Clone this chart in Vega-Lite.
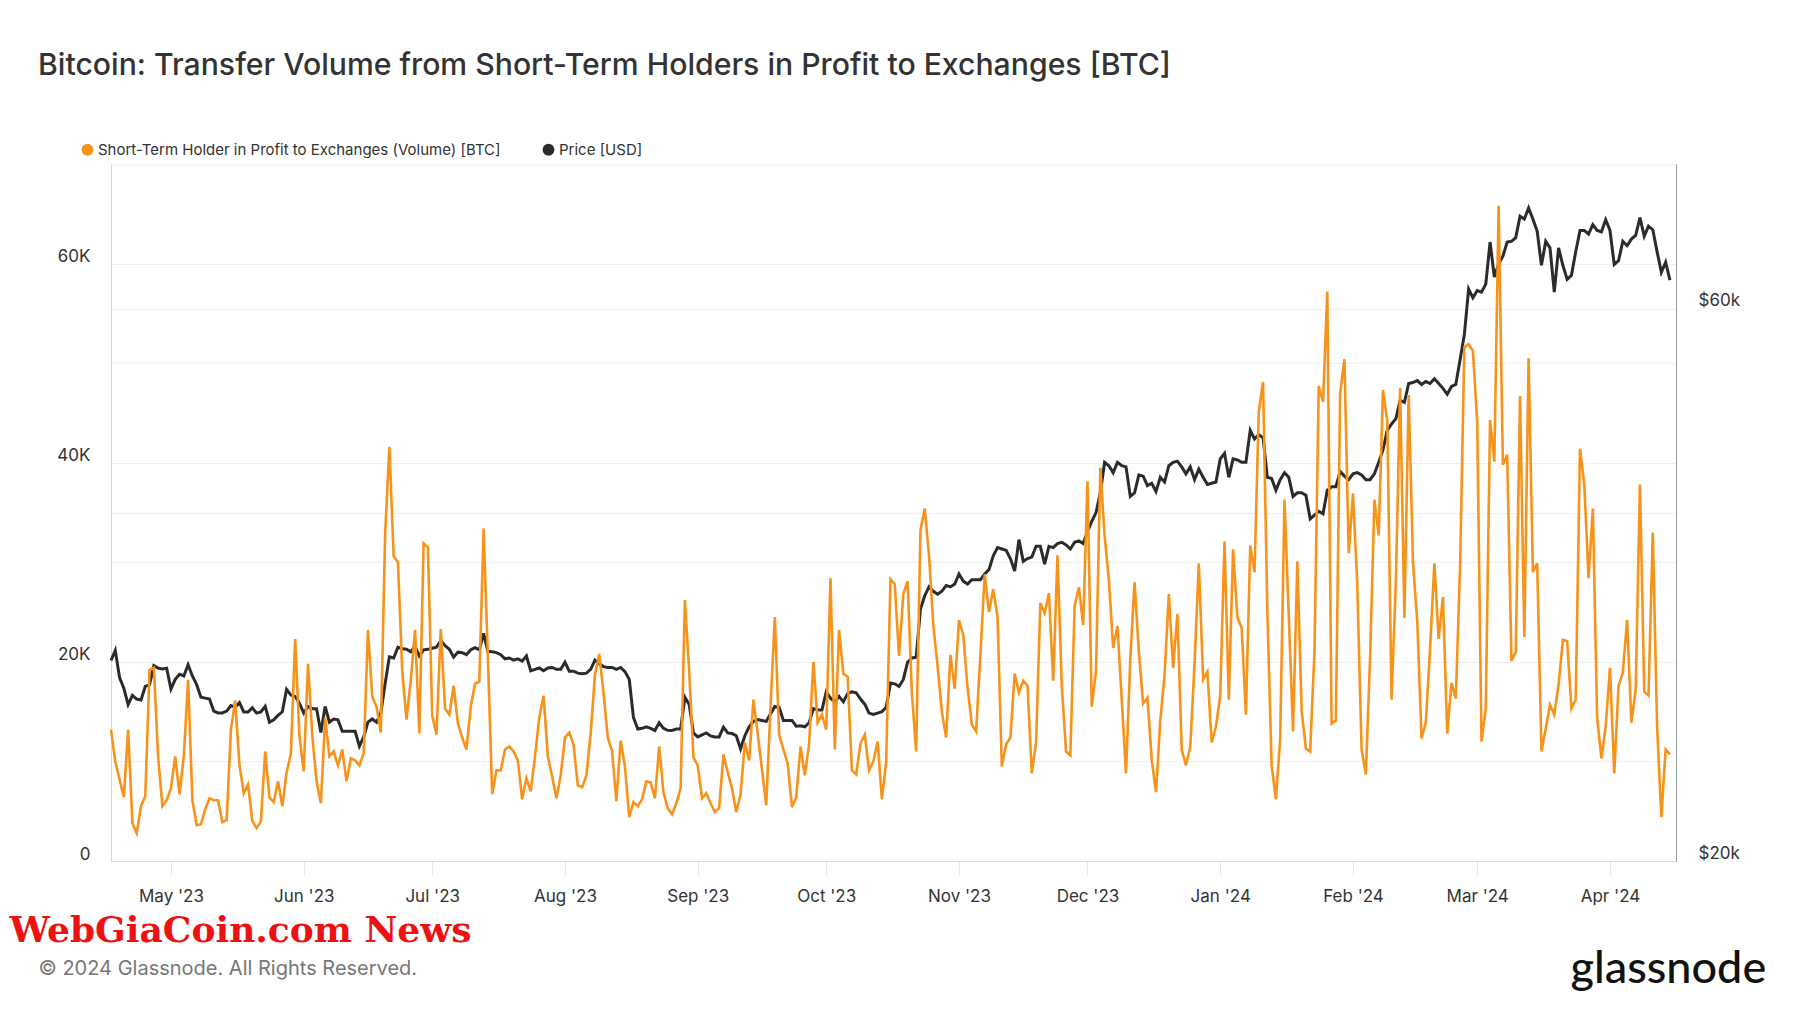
{
"$schema":"https://vega.github.io/schema/vega-lite/v6.json",
"width":1565,"height":697,
"autosize":{"type":"none"},
"padding":{"left":111,"top":164,"right":124,"bottom":152},
"background":"white",
"config":{"view":{"stroke":"#e8e8e8","strokeWidth":1},"font":"Inter"},
"title":{"text":"Bitcoin: Transfer Volume from Short-Term Holders in Profit to Exchanges [BTC]","anchor":"start","frame":"group","dx":-73,"offset":37,"baseline":"alphabetic","fontSize":30.2,"fontWeight":500,"font":"Inter","color":"#333333"},
"data":{"values":[
{"t":"2023-04-17","v":13200,"p":29800},{"t":"2023-04-18","v":10000,"p":30400},{"t":"2023-04-19","v":8200,"p":28800},{"t":"2023-04-20","v":6400,"p":28200},{"t":"2023-04-21","v":13200,"p":27300},{"t":"2023-04-22","v":3800,"p":27800},{"t":"2023-04-23","v":2800,"p":27600},{"t":"2023-04-24","v":5500,"p":27550},{"t":"2023-04-25","v":6500,"p":28300},{"t":"2023-04-26","v":19200,"p":28400},{"t":"2023-04-27","v":19400,"p":29500},{"t":"2023-04-28","v":10500,"p":29350},{"t":"2023-04-29","v":5500,"p":29300},{"t":"2023-04-30","v":6100,"p":29350},
{"t":"2023-05-01","v":7300,"p":28150},{"t":"2023-05-02","v":10500,"p":28700},{"t":"2023-05-03","v":6700,"p":29000},{"t":"2023-05-04","v":10500,"p":28900},{"t":"2023-05-05","v":18200,"p":29550},{"t":"2023-05-06","v":6100,"p":28900},{"t":"2023-05-07","v":3600,"p":28400},{"t":"2023-05-08","v":3700,"p":27700},{"t":"2023-05-09","v":5200,"p":27650},{"t":"2023-05-10","v":6300,"p":27600},{"t":"2023-05-11","v":6100,"p":26950},{"t":"2023-05-12","v":6100,"p":26850},{"t":"2023-05-13","v":3900,"p":26850},{"t":"2023-05-14","v":4100,"p":26950},{"t":"2023-05-15","v":13200,"p":27250},{"t":"2023-05-16","v":16100,"p":27150},{"t":"2023-05-17","v":9600,"p":27400},{"t":"2023-05-18","v":6800,"p":26900},{"t":"2023-05-19","v":7700,"p":26900},{"t":"2023-05-20","v":4000,"p":27130},{"t":"2023-05-21","v":3300,"p":26840},{"t":"2023-05-22","v":4000,"p":26900},{"t":"2023-05-23","v":11000,"p":27200},{"t":"2023-05-24","v":6400,"p":26360},{"t":"2023-05-25","v":5900,"p":26480},{"t":"2023-05-26","v":8000,"p":26720},{"t":"2023-05-27","v":5500,"p":26910},{"t":"2023-05-28","v":8900,"p":28140},{"t":"2023-05-29","v":10800,"p":27820},{"t":"2023-05-30","v":22300,"p":27740},{"t":"2023-05-31","v":12600,"p":27370},
{"t":"2023-06-01","v":9000,"p":26840},{"t":"2023-06-02","v":19800,"p":27200},{"t":"2023-06-03","v":12600,"p":27080},{"t":"2023-06-04","v":8000,"p":27080},{"t":"2023-06-05","v":5800,"p":25820},{"t":"2023-06-06","v":14400,"p":27200},{"t":"2023-06-07","v":10500,"p":26360},{"t":"2023-06-08","v":11000,"p":26520},{"t":"2023-06-09","v":9600,"p":26480},{"t":"2023-06-10","v":11200,"p":25890},{"t":"2023-06-11","v":8000,"p":25890},{"t":"2023-06-12","v":10300,"p":25890},{"t":"2023-06-13","v":10100,"p":25890},{"t":"2023-06-14","v":9600,"p":25130},{"t":"2023-06-15","v":10800,"p":25600},{"t":"2023-06-16","v":23200,"p":26360},{"t":"2023-06-17","v":16500,"p":26530},{"t":"2023-06-18","v":15500,"p":26360},{"t":"2023-06-19","v":12900,"p":26840},{"t":"2023-06-20","v":32700,"p":28450},{"t":"2023-06-21","v":41600,"p":30020},{"t":"2023-06-22","v":30600,"p":29950},{"t":"2023-06-23","v":30000,"p":30600},{"t":"2023-06-24","v":19100,"p":30500},{"t":"2023-06-25","v":14200,"p":30470},{"t":"2023-06-26","v":18200,"p":30320},{"t":"2023-06-27","v":23200,"p":30640},{"t":"2023-06-28","v":12800,"p":30070},{"t":"2023-06-29","v":31900,"p":30440},{"t":"2023-06-30","v":31500,"p":30470},
{"t":"2023-07-01","v":14600,"p":30540},{"t":"2023-07-02","v":12700,"p":30600},{"t":"2023-07-03","v":23300,"p":31000},{"t":"2023-07-04","v":15300,"p":30700},{"t":"2023-07-05","v":14700,"p":30470},{"t":"2023-07-06","v":17600,"p":30000},{"t":"2023-07-07","v":13800,"p":30300},{"t":"2023-07-08","v":12400,"p":30270},{"t":"2023-07-09","v":11200,"p":30150},{"t":"2023-07-10","v":15500,"p":30440},{"t":"2023-07-11","v":17800,"p":30570},{"t":"2023-07-12","v":18000,"p":30440},{"t":"2023-07-13","v":33400,"p":31450},{"t":"2023-07-14","v":20500,"p":30350},{"t":"2023-07-15","v":6700,"p":30320},{"t":"2023-07-16","v":9100,"p":30270},{"t":"2023-07-17","v":9100,"p":30150},{"t":"2023-07-18","v":11200,"p":29900},{"t":"2023-07-19","v":11500,"p":29950},{"t":"2023-07-20","v":11000,"p":29820},{"t":"2023-07-21","v":10100,"p":29900},{"t":"2023-07-22","v":6200,"p":29760},{"t":"2023-07-23","v":8300,"p":30070},{"t":"2023-07-24","v":7000,"p":29200},{"t":"2023-07-25","v":10500,"p":29280},{"t":"2023-07-26","v":14400,"p":29360},{"t":"2023-07-27","v":16600,"p":29200},{"t":"2023-07-28","v":10500,"p":29360},{"t":"2023-07-29","v":8500,"p":29390},{"t":"2023-07-30","v":6300,"p":29280},{"t":"2023-07-31","v":8600,"p":29280},
{"t":"2023-08-01","v":12400,"p":29700},{"t":"2023-08-02","v":12900,"p":29170},{"t":"2023-08-03","v":11700,"p":29170},{"t":"2023-08-04","v":7600,"p":29060},{"t":"2023-08-05","v":7400,"p":29020},{"t":"2023-08-06","v":8600,"p":29060},{"t":"2023-08-07","v":12800,"p":29280},{"t":"2023-08-08","v":18700,"p":29820},{"t":"2023-08-09","v":20800,"p":29600},{"t":"2023-08-10","v":16900,"p":29440},{"t":"2023-08-11","v":12400,"p":29390},{"t":"2023-08-12","v":11000,"p":29390},{"t":"2023-08-13","v":6000,"p":29280},{"t":"2023-08-14","v":12100,"p":29390},{"t":"2023-08-15","v":9500,"p":29150},{"t":"2023-08-16","v":4400,"p":28710},{"t":"2023-08-17","v":5900,"p":26600},{"t":"2023-08-18","v":5500,"p":26000},{"t":"2023-08-19","v":6200,"p":26040},{"t":"2023-08-20","v":8000,"p":26120},{"t":"2023-08-21","v":7900,"p":26040},{"t":"2023-08-22","v":6300,"p":25930},{"t":"2023-08-23","v":11500,"p":26330},{"t":"2023-08-24","v":6900,"p":26040},{"t":"2023-08-25","v":5300,"p":25940},{"t":"2023-08-26","v":4700,"p":25930},{"t":"2023-08-27","v":5800,"p":26000},{"t":"2023-08-28","v":7300,"p":26000},{"t":"2023-08-29","v":26200,"p":27700},{"t":"2023-08-30","v":19100,"p":27300},{"t":"2023-08-31","v":10400,"p":25800},
{"t":"2023-09-01","v":9600,"p":25600},{"t":"2023-09-02","v":6300,"p":25700},{"t":"2023-09-03","v":6800,"p":25800},{"t":"2023-09-04","v":5800,"p":25650},{"t":"2023-09-05","v":4900,"p":25600},{"t":"2023-09-06","v":5300,"p":25600},{"t":"2023-09-07","v":10700,"p":26100},{"t":"2023-09-08","v":8900,"p":25800},{"t":"2023-09-09","v":7300,"p":25770},{"t":"2023-09-10","v":4900,"p":25660},{"t":"2023-09-11","v":6700,"p":25000},{"t":"2023-09-12","v":11900,"p":25660},{"t":"2023-09-13","v":10100,"p":26120},{"t":"2023-09-14","v":16200,"p":26400},{"t":"2023-09-15","v":12800,"p":26500},{"t":"2023-09-16","v":9200,"p":26450},{"t":"2023-09-17","v":5600,"p":26400},{"t":"2023-09-18","v":15500,"p":26800},{"t":"2023-09-19","v":24500,"p":27200},{"t":"2023-09-20","v":12700,"p":27150},{"t":"2023-09-21","v":11200,"p":26450},{"t":"2023-09-22","v":9800,"p":26450},{"t":"2023-09-23","v":5400,"p":26450},{"t":"2023-09-24","v":6400,"p":26150},{"t":"2023-09-25","v":11500,"p":26170},{"t":"2023-09-26","v":8600,"p":26120},{"t":"2023-09-27","v":11700,"p":26330},{"t":"2023-09-28","v":20000,"p":27080},{"t":"2023-09-29","v":13900,"p":27000},{"t":"2023-09-30","v":14700,"p":27000},
{"t":"2023-10-01","v":13200,"p":28000},{"t":"2023-10-02","v":28400,"p":27650},{"t":"2023-10-03","v":11200,"p":27450},{"t":"2023-10-04","v":23200,"p":27750},{"t":"2023-10-05","v":18800,"p":27450},{"t":"2023-10-06","v":18500,"p":27900},{"t":"2023-10-07","v":9100,"p":28000},{"t":"2023-10-08","v":8700,"p":27950},{"t":"2023-10-09","v":11800,"p":27600},{"t":"2023-10-10","v":12700,"p":27320},{"t":"2023-10-11","v":9100,"p":26840},{"t":"2023-10-12","v":10000,"p":26770},{"t":"2023-10-13","v":12000,"p":26840},{"t":"2023-10-14","v":6200,"p":26910},{"t":"2023-10-15","v":10000,"p":27150},{"t":"2023-10-16","v":28300,"p":28500},{"t":"2023-10-17","v":27800,"p":28450},{"t":"2023-10-18","v":20600,"p":28300},{"t":"2023-10-19","v":26800,"p":28700},{"t":"2023-10-20","v":28100,"p":29700},{"t":"2023-10-21","v":16900,"p":29950},{"t":"2023-10-22","v":11000,"p":30000},{"t":"2023-10-23","v":33200,"p":33000},{"t":"2023-10-24","v":35400,"p":33900},{"t":"2023-10-25","v":30700,"p":34500},{"t":"2023-10-26","v":23700,"p":34200},{"t":"2023-10-27","v":19600,"p":34000},{"t":"2023-10-28","v":15000,"p":34200},{"t":"2023-10-29","v":12400,"p":34600},{"t":"2023-10-30","v":20700,"p":34500},{"t":"2023-10-31","v":17300,"p":34700},
{"t":"2023-11-01","v":24200,"p":35400},{"t":"2023-11-02","v":22700,"p":34900},{"t":"2023-11-03","v":17400,"p":34700},{"t":"2023-11-04","v":13700,"p":35000},{"t":"2023-11-05","v":13000,"p":35000},{"t":"2023-11-06","v":20700,"p":35000},{"t":"2023-11-07","v":28800,"p":35400},{"t":"2023-11-08","v":25000,"p":35700},{"t":"2023-11-09","v":27300,"p":36700},{"t":"2023-11-10","v":24500,"p":37300},{"t":"2023-11-11","v":9500,"p":37200},{"t":"2023-11-12","v":11700,"p":37100},{"t":"2023-11-13","v":12400,"p":36500},{"t":"2023-11-14","v":18800,"p":35600},{"t":"2023-11-15","v":16900,"p":37900},{"t":"2023-11-16","v":18100,"p":36300},{"t":"2023-11-17","v":17600,"p":36500},{"t":"2023-11-18","v":8800,"p":36600},{"t":"2023-11-19","v":11900,"p":37400},{"t":"2023-11-20","v":25900,"p":37400},{"t":"2023-11-21","v":24900,"p":36100},{"t":"2023-11-22","v":26900,"p":37400},{"t":"2023-11-23","v":18100,"p":37300},{"t":"2023-11-24","v":30700,"p":37600},{"t":"2023-11-25","v":17600,"p":37700},{"t":"2023-11-26","v":11000,"p":37500},{"t":"2023-11-27","v":10600,"p":37200},{"t":"2023-11-28","v":25600,"p":37700},{"t":"2023-11-29","v":27500,"p":37800},{"t":"2023-11-30","v":23700,"p":37600},
{"t":"2023-12-01","v":38100,"p":38500},{"t":"2023-12-02","v":15500,"p":39300},{"t":"2023-12-03","v":19100,"p":40000},{"t":"2023-12-04","v":39500,"p":41600},{"t":"2023-12-05","v":32700,"p":44200},{"t":"2023-12-06","v":28200,"p":43900},{"t":"2023-12-07","v":21400,"p":43300},{"t":"2023-12-08","v":23600,"p":44200},{"t":"2023-12-09","v":16200,"p":43900},{"t":"2023-12-10","v":8800,"p":43800},{"t":"2023-12-11","v":20300,"p":41300},{"t":"2023-12-12","v":28000,"p":41600},{"t":"2023-12-13","v":21000,"p":43100},{"t":"2023-12-14","v":15800,"p":43000},{"t":"2023-12-15","v":16400,"p":42200},{"t":"2023-12-16","v":10200,"p":42400},{"t":"2023-12-17","v":6900,"p":41700},{"t":"2023-12-18","v":14100,"p":42900},{"t":"2023-12-19","v":18700,"p":42500},{"t":"2023-12-20","v":26800,"p":43900},{"t":"2023-12-21","v":19400,"p":44200},{"t":"2023-12-22","v":24800,"p":44300},{"t":"2023-12-23","v":11200,"p":43800},{"t":"2023-12-24","v":9600,"p":43200},{"t":"2023-12-25","v":11500,"p":43800},{"t":"2023-12-26","v":19800,"p":42700},{"t":"2023-12-27","v":29900,"p":43600},{"t":"2023-12-28","v":18200,"p":42900},{"t":"2023-12-29","v":19000,"p":42300},{"t":"2023-12-30","v":11900,"p":42400},{"t":"2023-12-31","v":13500,"p":42500},
{"t":"2024-01-01","v":16600,"p":44500},{"t":"2024-01-02","v":32100,"p":45000},{"t":"2024-01-03","v":16200,"p":42900},{"t":"2024-01-04","v":31300,"p":44500},{"t":"2024-01-05","v":24500,"p":44400},{"t":"2024-01-06","v":23400,"p":44200},{"t":"2024-01-07","v":14700,"p":44200},{"t":"2024-01-08","v":31700,"p":47100},{"t":"2024-01-09","v":29000,"p":46300},{"t":"2024-01-10","v":45200,"p":46700},{"t":"2024-01-11","v":48100,"p":46400},{"t":"2024-01-12","v":25000,"p":42900},{"t":"2024-01-13","v":9600,"p":42800},{"t":"2024-01-14","v":6200,"p":41800},{"t":"2024-01-15","v":12300,"p":42700},{"t":"2024-01-16","v":36300,"p":43300},{"t":"2024-01-17","v":24600,"p":42900},{"t":"2024-01-18","v":13000,"p":41300},{"t":"2024-01-19","v":30100,"p":41600},{"t":"2024-01-20","v":15100,"p":41600},{"t":"2024-01-21","v":11300,"p":41400},{"t":"2024-01-22","v":11000,"p":39500},{"t":"2024-01-23","v":21000,"p":39800},{"t":"2024-01-24","v":47700,"p":40100},{"t":"2024-01-25","v":46100,"p":39900},{"t":"2024-01-26","v":57200,"p":41800},{"t":"2024-01-27","v":13800,"p":42100},{"t":"2024-01-28","v":14100,"p":42100},{"t":"2024-01-29","v":47000,"p":43400},{"t":"2024-01-30","v":50400,"p":43000},{"t":"2024-01-31","v":30900,"p":42700},
{"t":"2024-02-01","v":36900,"p":43200},{"t":"2024-02-02","v":27800,"p":43300},{"t":"2024-02-03","v":11200,"p":43100},{"t":"2024-02-04","v":8700,"p":42700},{"t":"2024-02-05","v":20600,"p":42700},{"t":"2024-02-06","v":36300,"p":43200},{"t":"2024-02-07","v":32700,"p":44200},{"t":"2024-02-08","v":47300,"p":45300},{"t":"2024-02-09","v":44200,"p":47100},{"t":"2024-02-10","v":16200,"p":47700},{"t":"2024-02-11","v":28000,"p":48200},{"t":"2024-02-12","v":47500,"p":50000},{"t":"2024-02-13","v":24400,"p":49800},{"t":"2024-02-14","v":46800,"p":51700},{"t":"2024-02-15","v":30000,"p":51800},{"t":"2024-02-16","v":24100,"p":52000},{"t":"2024-02-17","v":12300,"p":51600},{"t":"2024-02-18","v":13900,"p":51900},{"t":"2024-02-19","v":21400,"p":51700},{"t":"2024-02-20","v":29900,"p":52200},{"t":"2024-02-21","v":22300,"p":51700},{"t":"2024-02-22","v":26500,"p":51200},{"t":"2024-02-23","v":12800,"p":50600},{"t":"2024-02-24","v":17900,"p":51400},{"t":"2024-02-25","v":16300,"p":51600},{"t":"2024-02-26","v":29600,"p":54200},{"t":"2024-02-27","v":51600,"p":57000},{"t":"2024-02-28","v":51900,"p":62400},{"t":"2024-02-29","v":51200,"p":61300},
{"t":"2024-03-01","v":44100,"p":62200},{"t":"2024-03-02","v":12000,"p":62000},{"t":"2024-03-03","v":15300,"p":63000},{"t":"2024-03-04","v":44300,"p":68500},{"t":"2024-03-05","v":40100,"p":63900},{"t":"2024-03-06","v":65800,"p":65600},{"t":"2024-03-07","v":39800,"p":66600},{"t":"2024-03-08","v":40800,"p":68500},{"t":"2024-03-09","v":20100,"p":68600},{"t":"2024-03-10","v":21000,"p":69100},{"t":"2024-03-11","v":46700,"p":72100},{"t":"2024-03-12","v":22500,"p":71700},{"t":"2024-03-13","v":50500,"p":73300},{"t":"2024-03-14","v":29000,"p":71700},{"t":"2024-03-15","v":29900,"p":70000},{"t":"2024-03-16","v":11000,"p":65400},{"t":"2024-03-17","v":13300,"p":68600},{"t":"2024-03-18","v":15700,"p":67700},{"t":"2024-03-19","v":14700,"p":62000},{"t":"2024-03-20","v":17700,"p":67700},{"t":"2024-03-21","v":22200,"p":65400},{"t":"2024-03-22","v":22100,"p":63600},{"t":"2024-03-23","v":15300,"p":64100},{"t":"2024-03-24","v":16200,"p":67200},{"t":"2024-03-25","v":41400,"p":70100},{"t":"2024-03-26","v":37800,"p":70100},{"t":"2024-03-27","v":28400,"p":69600},{"t":"2024-03-28","v":35400,"p":70900},{"t":"2024-03-29","v":14400,"p":70100},{"t":"2024-03-30","v":10300,"p":69900},{"t":"2024-03-31","v":13500,"p":71600},
{"t":"2024-04-01","v":19400,"p":70100},{"t":"2024-04-02","v":8800,"p":65500},{"t":"2024-04-03","v":17600,"p":66000},{"t":"2024-04-04","v":18900,"p":68600},{"t":"2024-04-05","v":24200,"p":68000},{"t":"2024-04-06","v":13900,"p":68900},{"t":"2024-04-07","v":17200,"p":69400},{"t":"2024-04-08","v":37800,"p":71900},{"t":"2024-04-09","v":17000,"p":69300},{"t":"2024-04-10","v":16600,"p":70700},{"t":"2024-04-11","v":33000,"p":70200},{"t":"2024-04-12","v":13500,"p":67200},{"t":"2024-04-13","v":4400,"p":64500},{"t":"2024-04-14","v":11200,"p":65800},{"t":"2024-04-15","v":10700,"p":63500}
]},
"encoding":{
"x":{"field":"t","type":"temporal",
"scale":{"type":"utc","domain":[{"year":2023,"month":4,"date":17,"utc":true},{"year":2024,"month":4,"date":16,"hours":10,"utc":true}]},
"axis":{"tickCount":{"interval":"month","step":1},"labelExpr":"utcFormat(datum.value, \"%b '%y\")","labelFont":"Inter","labelFontSize":17,"labelColor":"#333333","labelFlush":false,"labelOverlap":false,"tickSize":14,"tickColor":"#e6e6e6","labelPadding":13,"domainColor":"#dddddd","grid":false,
"title":"© 2024 Glassnode. All Rights Reserved.","titleX":-73,"titleY":107,"titleAlign":"left","titleBaseline":"middle","titleFont":"Inter","titleFontSize":20,"titleFontWeight":400,"titleColor":"#777777"}}
},
"layer":[
{"mark":{"type":"line","strokeWidth":3,"interpolate":"linear"},
"encoding":{
"y":{"field":"p","type":"quantitative","scale":{"type":"log","domain":[20000,80000],"nice":false},
"axis":{"orient":"right","values":[20000,40000,60000],"labelExpr":"datum.value == 40000 ? '' : '$' + datum.value/1000 + 'k'","grid":true,"gridColor":"#efefef","domainColor":"#9a9a9a","ticks":false,"labelPadding":22,"labelBaseline":"alphabetic","labelOffset":-3,"labelFont":"Inter","labelFontSize":17,"labelColor":"#333333","labelAlign":"left",
"title":"glassnode","titleAngle":0,"titleX":-106,"titleY":818,"titleAlign":"left","titleBaseline":"alphabetic","titleFont":"Lato","titleFontSize":45,"titleFontWeight":500,"titleColor":"#111111"}},
"color":{"datum":"Price [USD]",
"scale":{"domain":["Short-Term Holder in Profit to Exchanges (Volume) [BTC]","Price [USD]"],"range":["#f7931a","#2b2b2b"]},
"legend":{"orient":"none","legendX":-31,"legendY":-22,"direction":"horizontal","title":null,"symbolType":"circle","symbolSize":140,"symbolStrokeWidth":0,"labelFont":"Inter","labelFontSize":15,"labelColor":"#333333","labelLimit":0,"columnPadding":40,"labelOffset":3,
"encode":{"symbols":{"update":{"fill":{"scale":"color","field":"value"},"stroke":{"value":"transparent"}}}}}}
}},
{"mark":{"type":"line","strokeWidth":2.6,"interpolate":"linear"},
"encoding":{
"y":{"field":"v","type":"quantitative","scale":{"domain":[0,70000],"nice":false},
"axis":{"orient":"left","values":[0,10000,20000,30000,40000,50000,60000,70000],"labelExpr":"datum.value == 0 ? '0' : (datum.value % 20000 == 0 ? datum.value/1000 + 'K' : '')","grid":true,"gridColor":"#efefef","domainColor":"#fbd3a3","ticks":false,"labelPadding":21,"labelBaseline":"alphabetic","labelOffset":-2,"labelFont":"Inter","labelFontSize":17,"labelColor":"#333333",
"title":"WebGiaCoin.com News","titleAngle":0,"titleX":-102,"titleY":777,"titleAlign":"left","titleBaseline":"alphabetic","titleFont":"DejaVu Serif","titleFontSize":36,"titleFontWeight":"bold","titleColor":"#ee1111"}},
"color":{"datum":"Short-Term Holder in Profit to Exchanges (Volume) [BTC]"}
}}
],
"resolve":{"scale":{"y":"independent"}}
}
